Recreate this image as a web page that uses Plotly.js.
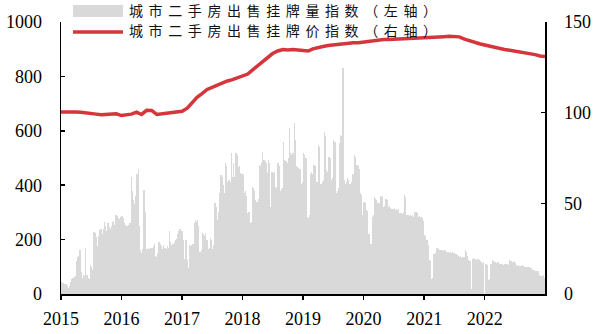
<!DOCTYPE html>
<html><head><meta charset="utf-8">
<script src="https://cdn.plot.ly/plotly-3.0.1.min.js"></script>
<style>html,body{margin:0;padding:0;background:#fff}#chart{width:599px;height:334px}</style>
</head><body><div id="chart"></div>
<script>
// Weekly listing-volume index (left axis), 52 weeks per year
const years = [2015, 2016, 2017, 2018, 2019, 2020, 2021, 2022];
const volume2015 = [44,42,40,38,35,30,22,28,45,55,60,62,65,120,136,140,160,80,60,70,65,168,70,60,55,105,100,90,228,225,210,175,215,235,240,220,240,265,250,230,260,245,240,250,265,270,255,290,285,280,275,282];
const volume2016 = [285,280,260,255,250,250,252,260,431,380,345,330,360,440,458,250,160,150,165,384,300,167,165,168,166,170,168,175,185,140,135,150,190,185,175,165,180,170,165,175,170,230,190,180,185,190,200,203,220,230,238,230];
const volume2017 = [230,200,130,200,124,94,179,175,180,185,260,271,265,273,250,154,160,223,220,215,223,200,165,170,205,200,165,180,334,320,271,300,370,437,430,400,370,480,470,413,420,410,517,430,480,430,517,510,468,470,444,440];
const volume2018 = [440,370,380,360,297,300,260,265,394,390,380,345,340,350,474,470,480,523,493,490,480,444,493,480,320,450,445,450,394,390,480,470,380,385,390,560,493,490,480,500,610,517,510,520,628,566,470,468,465,460,406,410];
const volume2019 = [517,510,500,283,280,290,443,450,440,474,470,413,410,548,540,406,410,420,597,580,455,450,505,500,420,425,566,560,370,380,390,554,585,580,831,420,406,410,425,420,406,410,443,440,511,505,474,470,460,370,365,290];
const volume2020 = [339,335,308,305,222,220,185,283,290,357,350,345,333,335,360,355,362,320,325,350,345,320,322,318,314,312,316,310,314,308,312,297,298,295,300,363,355,290,292,288,290,286,290,283,302,300,298,283,285,282,280,270];
const volume2021 = [216,215,200,180,124,120,56,60,148,150,170,168,165,162,160,162,158,160,162,154,156,152,155,150,154,150,152,148,142,140,136,138,134,136,135,162,155,140,124,120,20,130,132,128,130,126,128,125,122,117,115,117];
const volume2022 = [112,110,105,50,55,110,124,122,118,117,115,116,112,111,110,112,108,110,112,110,108,124,122,120,118,120,115,105,104,106,102,104,105,103,100,101,99,98,100,97,96,88,87,86,84,86,85,70,68,66,70,60];

// Monthly listing-price index (right axis)
const price2015 = [100.3,100.4,100.5,100.4,100.2,100.0,99.8,99.2,98.8,99.0,99.3,99.4];
const price2016 = [98.4,98.8,99.2,100.3,99.0,101.3,101.2,99.0,99.4,99.8,100.0,100.3];
const price2017 = [100.8,102.5,105.5,108.5,110.5,112.8,114.0,115.3,116.4,117.5,118.2,119.2];
const price2018 = [120.0,121.3,123.5,125.8,128.2,130.5,132.6,134.0,134.8,134.5,134.8,134.6];
const price2019 = [134.2,134.0,135.2,136.0,136.5,137.0,137.3,137.8,138.3,138.4,138.5,138.6];
const price2020 = [139.0,139.3,139.8,140.2,140.3,140.4,140.5,140.6,140.7,140.8,140.9,141.0];
const price2021 = [141.2,141.3,141.5,141.7,141.9,142.1,142.1,141.8,140.6,139.6,138.8,138.0];
const price2022 = [137.3,136.6,136.0,135.3,134.8,134.4,134.0,133.6,133.2,132.6,132.0,131.3];
const priceEnd = 131.0;

const volumeName = '城市二手房出售挂牌量指数（左轴）';
const priceName = '城市二手房出售挂牌价指数（右轴）';
const yearTicks = ['2015','2016','2017','2018','2019','2020','2021','2022'];

const volumeByYear = [volume2015,volume2016,volume2017,volume2018,volume2019,volume2020,volume2021,volume2022];
const priceByYear = [price2015,price2016,price2017,price2018,price2019,price2020,price2021,price2022];

const DAY = 86400000;
const vx = [], vy = [];
volumeByYear.forEach((arr, k) => {
  const t0 = Date.UTC(years[k], 0, 1) + 3.5 * DAY;
  arr.forEach((v, j) => {
    vx.push(new Date(t0 + 7 * j * DAY).toISOString().slice(0, 10));
    vy.push(v);
  });
});
const px = [], py = [];
priceByYear.forEach((arr, k) => {
  arr.forEach((v, m) => {
    px.push(new Date(Date.UTC(years[k], m, 1)).toISOString().slice(0, 10));
    py.push(v);
  });
});
px.push('2022-12-31'); py.push(priceEnd);

const serif = 'Liberation Serif, Times New Roman, serif';
const cjk = 'Noto Sans CJK SC, sans-serif';

const traces = [
  {type: 'bar', x: vx, y: vy, width: 7.6 * DAY, marker: {color: '#d9d9d9', line: {width: 0}},
   name: volumeName, yaxis: 'y', hoverinfo: 'x+y'},
  {type: 'scatter', mode: 'lines', x: px, y: py, line: {color: '#d5363c', width: 3.5},
   name: priceName, yaxis: 'y2'}
];

const W = 484, H = 272;
const pxX = p => (p - 61) / W;
const pxY = p => 1 - (p - 22) / H;

const layout = {
  width: 599, height: 334,
  margin: {l: 61, r: 54, t: 22, b: 40, pad: 0},
  paper_bgcolor: '#fff', plot_bgcolor: '#fff',
  showlegend: false, bargap: 0,
  font: {family: serif, size: 18, color: '#000'},
  xaxis: {
    type: 'date', range: ['2015-01-01', '2022-12-31'],
    tickmode: 'array',
    tickvals: yearTicks.map(y => y + '-01-01'), ticktext: yearTicks,
    ticks: 'outside', ticklen: 4, tickwidth: 1.5, tickcolor: '#000',
    showline: true, linecolor: '#000', linewidth: 1.5,
    showgrid: false, zeroline: false,
    tickfont: {family: serif, size: 18, color: '#000'}, ticklabelstandoff: 4
  },
  yaxis: {
    range: [0, 1000], dtick: 200, tick0: 0,
    ticks: 'inside', ticklen: 4, tickwidth: 1.5, tickcolor: '#000',
    showline: true, linecolor: '#000', linewidth: 1.5,
    showgrid: false, zeroline: false,
    tickfont: {family: serif, size: 18, color: '#000'}, ticklabelstandoff: 14
  },
  yaxis2: {
    overlaying: 'y', side: 'right', range: [0, 150], dtick: 50, tick0: 0,
    ticks: 'inside', ticklen: 4, tickwidth: 1.5, tickcolor: '#000',
    showline: true, linecolor: '#000', linewidth: 1.5,
    showgrid: false, zeroline: false,
    tickfont: {family: serif, size: 18, color: '#000'}, ticklabelstandoff: 14
  },
  shapes: [
    {type: 'rect', xref: 'paper', yref: 'paper', x0: pxX(73), x1: pxX(123), y0: pxY(17), y1: pxY(5),
     fillcolor: '#d9d9d9', line: {width: 0}},
    {type: 'line', xref: 'paper', yref: 'paper', x0: pxX(73), x1: pxX(123), y0: pxY(32), y1: pxY(32),
     line: {color: '#d5363c', width: 3.5}}
  ],
  annotations: [
    {xref: 'paper', yref: 'paper', x: pxX(127), y: pxY(10), xanchor: 'left', yanchor: 'middle',
     showarrow: false, text: '<span style="letter-spacing:5.6px">' + volumeName + '</span>',
     font: {family: cjk, size: 14, color: '#111'}},
    {xref: 'paper', yref: 'paper', x: pxX(127), y: pxY(30), xanchor: 'left', yanchor: 'middle',
     showarrow: false, text: '<span style="letter-spacing:5.6px">' + priceName + '</span>',
     font: {family: cjk, size: 14, color: '#111'}}
  ]
};

Plotly.newPlot('chart', traces, layout, {staticPlot: true, displayModeBar: false});
</script>
</body></html>
